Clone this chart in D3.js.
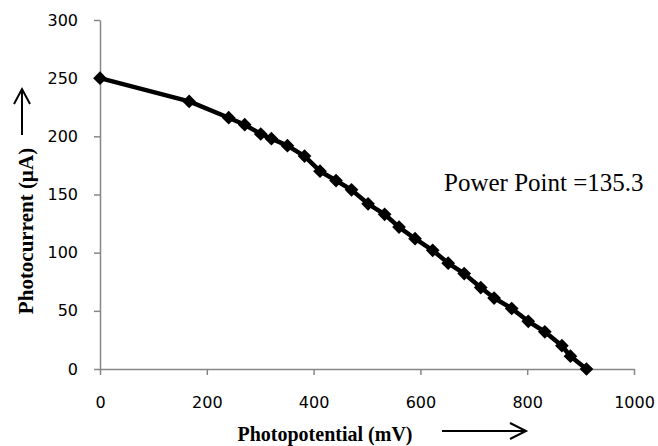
<!DOCTYPE html>
<html>
<head>
<meta charset="utf-8">
<script src="https://cdn.jsdelivr.net/npm/d3@7"></script>
<style>
  html, body { margin: 0; padding: 0; background: #fff; }
  svg { display: block; }
</style>
</head>
<body>
<svg id="chart" width="658" height="446"></svg>
<script>
// Data
const photopotential = [0, 167, 241, 271, 301, 321, 351, 383, 412, 442, 471, 502, 533, 560, 590, 623, 652, 682, 713, 738, 771, 802, 833, 865, 881, 911];
const photocurrent   = [250, 230, 216, 210, 202, 198, 192, 183, 170, 162, 154, 142, 133, 122, 112, 102, 91, 82, 70, 61, 52, 41, 32, 20, 11, 0];
const xTicks = [0, 200, 400, 600, 800, 1000];
const yTicks = [0, 50, 100, 150, 200, 250, 300];
const xTitle = "Photopotential (mV)";
const yTitle = "Photocurrent (\u00B5A)";
const annotation = "Power Point =135.3";

const svg = d3.select("#chart");
const x = d3.scaleLinear().domain([0, 1000]).range([100, 634]);
const y = d3.scaleLinear().domain([0, 300]).range([369, 20]);
const axisColor = "#868686";
const tickFont = "'DejaVu Sans', sans-serif";
const serif = "'Liberation Serif', 'Times New Roman', serif";

// Y axis
const yAxis = svg.append("g").attr("transform", `translate(${x(0)},0)`)
  .call(d3.axisLeft(y).tickValues(yTicks).tickFormat(d3.format("d")).tickSize(6).tickSizeOuter(0).tickPadding(16));
yAxis.select(".domain").attr("stroke", axisColor).attr("stroke-width", 1.5);
yAxis.selectAll(".tick line").attr("stroke", axisColor).attr("stroke-width", 1.5);
yAxis.selectAll(".tick text").attr("font-family", tickFont).attr("font-size", 16).attr("fill", "#000");

// X axis
const xAxis = svg.append("g").attr("transform", `translate(0,${y(0)})`)
  .call(d3.axisBottom(x).tickValues(xTicks).tickFormat(d3.format("d")).tickSize(6).tickSizeOuter(0).tickPadding(22));
xAxis.select(".domain").attr("stroke", axisColor).attr("stroke-width", 1.5);
xAxis.selectAll(".tick line").attr("stroke", axisColor).attr("stroke-width", 1.5);
xAxis.selectAll(".tick text").attr("font-family", tickFont).attr("font-size", 16).attr("fill", "#000");

// Series
const pts = photopotential.map((v, i) => [v, photocurrent[i]]);
svg.append("path")
  .datum(pts)
  .attr("fill", "none")
  .attr("stroke", "#000")
  .attr("stroke-width", 4.5)
  .attr("stroke-linejoin", "round")
  .attr("d", d3.line().x(d => x(d[0])).y(d => y(d[1])));

const diamond = d3.symbol().type(d3.symbolDiamond2).size(120);
svg.append("g").selectAll("path")
  .data(pts)
  .join("path")
  .attr("transform", d => `translate(${x(d[0])},${y(d[1])})`)
  .attr("d", diamond)
  .attr("fill", "#000");

// X title + arrow
svg.append("text")
  .attr("x", 325).attr("y", 441)
  .attr("text-anchor", "middle")
  .attr("font-family", serif).attr("font-weight", "bold").attr("font-size", 20)
  .attr("fill", "#000")
  .text(xTitle);
const ax = svg.append("g").attr("stroke", "#000").attr("stroke-width", 2).attr("fill", "none");
ax.append("line").attr("x1", 442).attr("y1", 431).attr("x2", 526).attr("y2", 431);
ax.append("path").attr("d", "M510,423 L526,431 L510,439");

// Y title + arrow
svg.append("text")
  .attr("transform", "translate(33,231) rotate(-90)")
  .attr("text-anchor", "middle")
  .attr("font-family", serif).attr("font-weight", "bold").attr("font-size", 21)
  .attr("fill", "#000")
  .text(yTitle);
const ay = svg.append("g").attr("stroke", "#000").attr("stroke-width", 2).attr("fill", "none");
ay.append("line").attr("x1", 22).attr("y1", 135).attr("x2", 22).attr("y2", 89);
ay.append("path").attr("d", "M14,104 L22,89 L30,104");

// Annotation
svg.append("text")
  .attr("x", 444).attr("y", 191)
  .attr("font-family", serif).attr("font-size", 25)
  .attr("fill", "#000")
  .text(annotation);
</script>
</body>
</html>
